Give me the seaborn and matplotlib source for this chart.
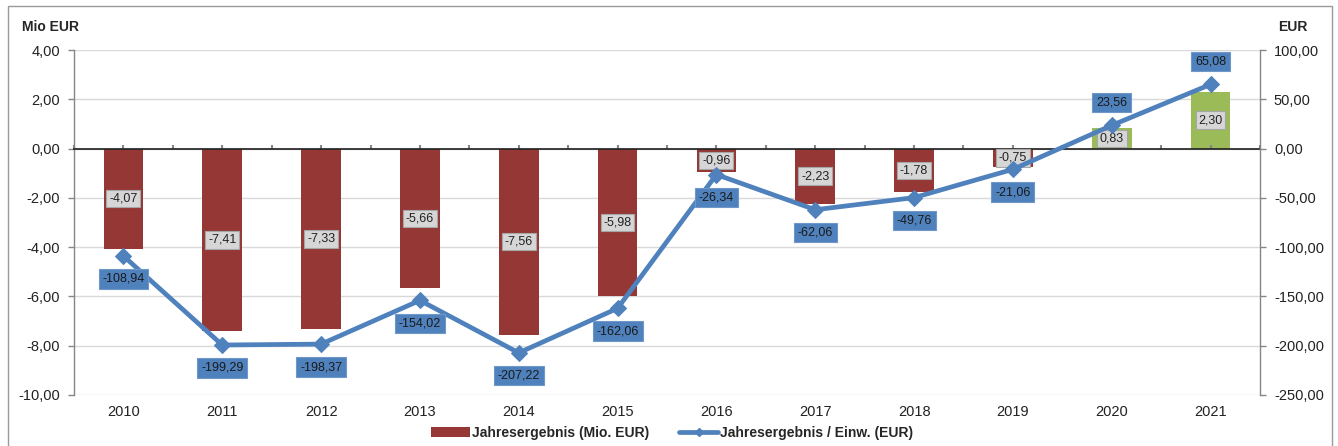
import numpy as np
import pandas as pd
import matplotlib
matplotlib.use("Agg")
import matplotlib.pyplot as plt
import seaborn as sns
from matplotlib.patches import Rectangle
from matplotlib.lines import Line2D
from matplotlib.patches import Patch

years = ["2010", "2011", "2012", "2013", "2014", "2015", "2016", "2017", "2018", "2019", "2020", "2021"]
result_mio = [-4.07, -7.41, -7.33, -5.66, -7.56, -5.98, -0.96, -2.23, -1.78, -0.75, 0.83, 2.30]
per_capita = [-108.94, -199.29, -198.37, -154.02, -207.22, -162.06, -26.34, -62.06, -49.76, -21.06, 23.56, 65.08]
left_ticks = [4, 2, 0, -2, -4, -6, -8, -10]
right_ticks = [100, 50, 0, -50, -100, -150, -200, -250]

RED = "#953735"
GREEN = "#9BBB59"
BLUE = "#4F81BD"
GRID = "#D9D9D9"
AXC = "#868686"

sns.set_theme(style="white")
plt.rcParams["font.family"] = ["Liberation Sans", "DejaVu Sans"]

def de(v):
    return f"{v:.2f}".replace(".", ",")

W, H = 1338, 446
fig = plt.figure(figsize=(W / 100, H / 100), dpi=100)
ax = fig.add_axes([74 / W, (H - 395) / H, 1186 / W, 345 / H])

df = pd.DataFrame({"year": years, "val": result_mio})
colors = [GREEN if v > 0 else RED for v in result_mio]
sns.barplot(data=df, x="year", y="val", hue="year", palette=colors, legend=False,
            width=0.4, ax=ax, saturation=1, edgecolor="none")

ax.set_ylim(-10, 4)
ax.set_yticks(left_ticks)
ax.set_yticklabels([de(t) for t in left_ticks], fontsize=10.5, color="#222222")
ax.yaxis.grid(True, color=GRID, linewidth=1)
ax.set_axisbelow(True)
ax.set_xlabel("")
ax.set_ylabel("")
ax.set_xlim(-0.5, len(years) - 0.5)
ax.tick_params(axis="x", length=0, pad=7, labelsize=10.5, labelcolor="#222222")
ax.tick_params(axis="y", length=4, width=1, color=AXC, direction="out", pad=6, left=True)
for s in ["top", "right", "bottom"]:
    ax.spines[s].set_visible(False)
ax.spines["left"].set_color(AXC)
ax.spines["left"].set_linewidth(1)

# zero axis with ticks
zpos = (0 - (-10)) / 14
sec = ax.secondary_xaxis(zpos)
sec.set_xticks(np.arange(-0.5, len(years), 0.5))
sec.set_xticklabels([])
sec.tick_params(axis="x", length=3, width=1.5, color=AXC, direction="out")
sec.spines["bottom"].set_color(AXC)
sec.spines["bottom"].set_linewidth(2.2)
sec.set_zorder(3)

# bar labels
for i, v in enumerate(result_mio):
    ax.text(i, v / 2, de(v), ha="center", va="center", fontsize=9, color="#222222",
            bbox=dict(boxstyle="square,pad=0.22", facecolor="#D6D6D6", edgecolor="#A6A6A6",
                      linewidth=0.8), zorder=6)

ax2 = ax.twinx()
ax2.set_position(ax.get_position())
xpos = np.arange(len(years))
sns.lineplot(x=xpos, y=per_capita, ax=ax2, color=BLUE, linewidth=3.4, marker="D",
             markersize=8.5, markeredgecolor=BLUE, sort=False, zorder=5)
ax2.set_ylim(-250, 100)
ax2.set_yticks(right_ticks)
ax2.set_yticklabels([de(t) for t in right_ticks], fontsize=10.5, color="#222222")
ax2.set_xlim(-0.5, len(years) - 0.5)
ax2.tick_params(axis="y", length=4, width=1, color=AXC, direction="out", pad=6, right=True)
for s in ["top", "left", "bottom"]:
    ax2.spines[s].set_visible(False)
ax2.spines["right"].set_color(AXC)
ax2.spines["right"].set_linewidth(1)
ax2.grid(False)
ax2.set_ylabel("")

for i, v in enumerate(per_capita):
    off = 16.5 if v > 0 else -16.5
    ax2.annotate(de(v), (i, v), xytext=(0, off), textcoords="offset points",
                 ha="center", va="center", fontsize=9, color="#1a1a1a",
                 bbox=dict(boxstyle="square,pad=0.3", facecolor=BLUE, edgecolor="#6f98c8",
                           linewidth=0.8), zorder=7)

fig.text(22 / W, 1 - 27 / H, "Mio EUR", fontsize=10, fontweight="bold", ha="left", va="center")
fig.text(1293 / W, 1 - 27 / H, "EUR", fontsize=10, fontweight="bold", ha="center", va="center")

handles = [Patch(facecolor=RED, edgecolor="none"),
           Line2D([0], [0], color=BLUE, linewidth=3.4, marker="D", markersize=4)]
fig.legend(handles, ["Jahresergebnis (Mio. EUR)", "Jahresergebnis / Einw. (EUR)"],
           loc="center", bbox_to_anchor=(672 / W, 1 - 433 / H), ncol=2, frameon=False,
           prop={"weight": "bold", "size": 10}, handlelength=2.8, handletextpad=0.1,
           columnspacing=2.2)

fig.patches.append(Rectangle((8 / W, -0.05), (1332 - 8) / W, 1.05 - 6 / H, transform=fig.transFigure,
                             fill=False, edgecolor="#9a9a9a", linewidth=1))

fig.savefig("out.png", dpi=100)
